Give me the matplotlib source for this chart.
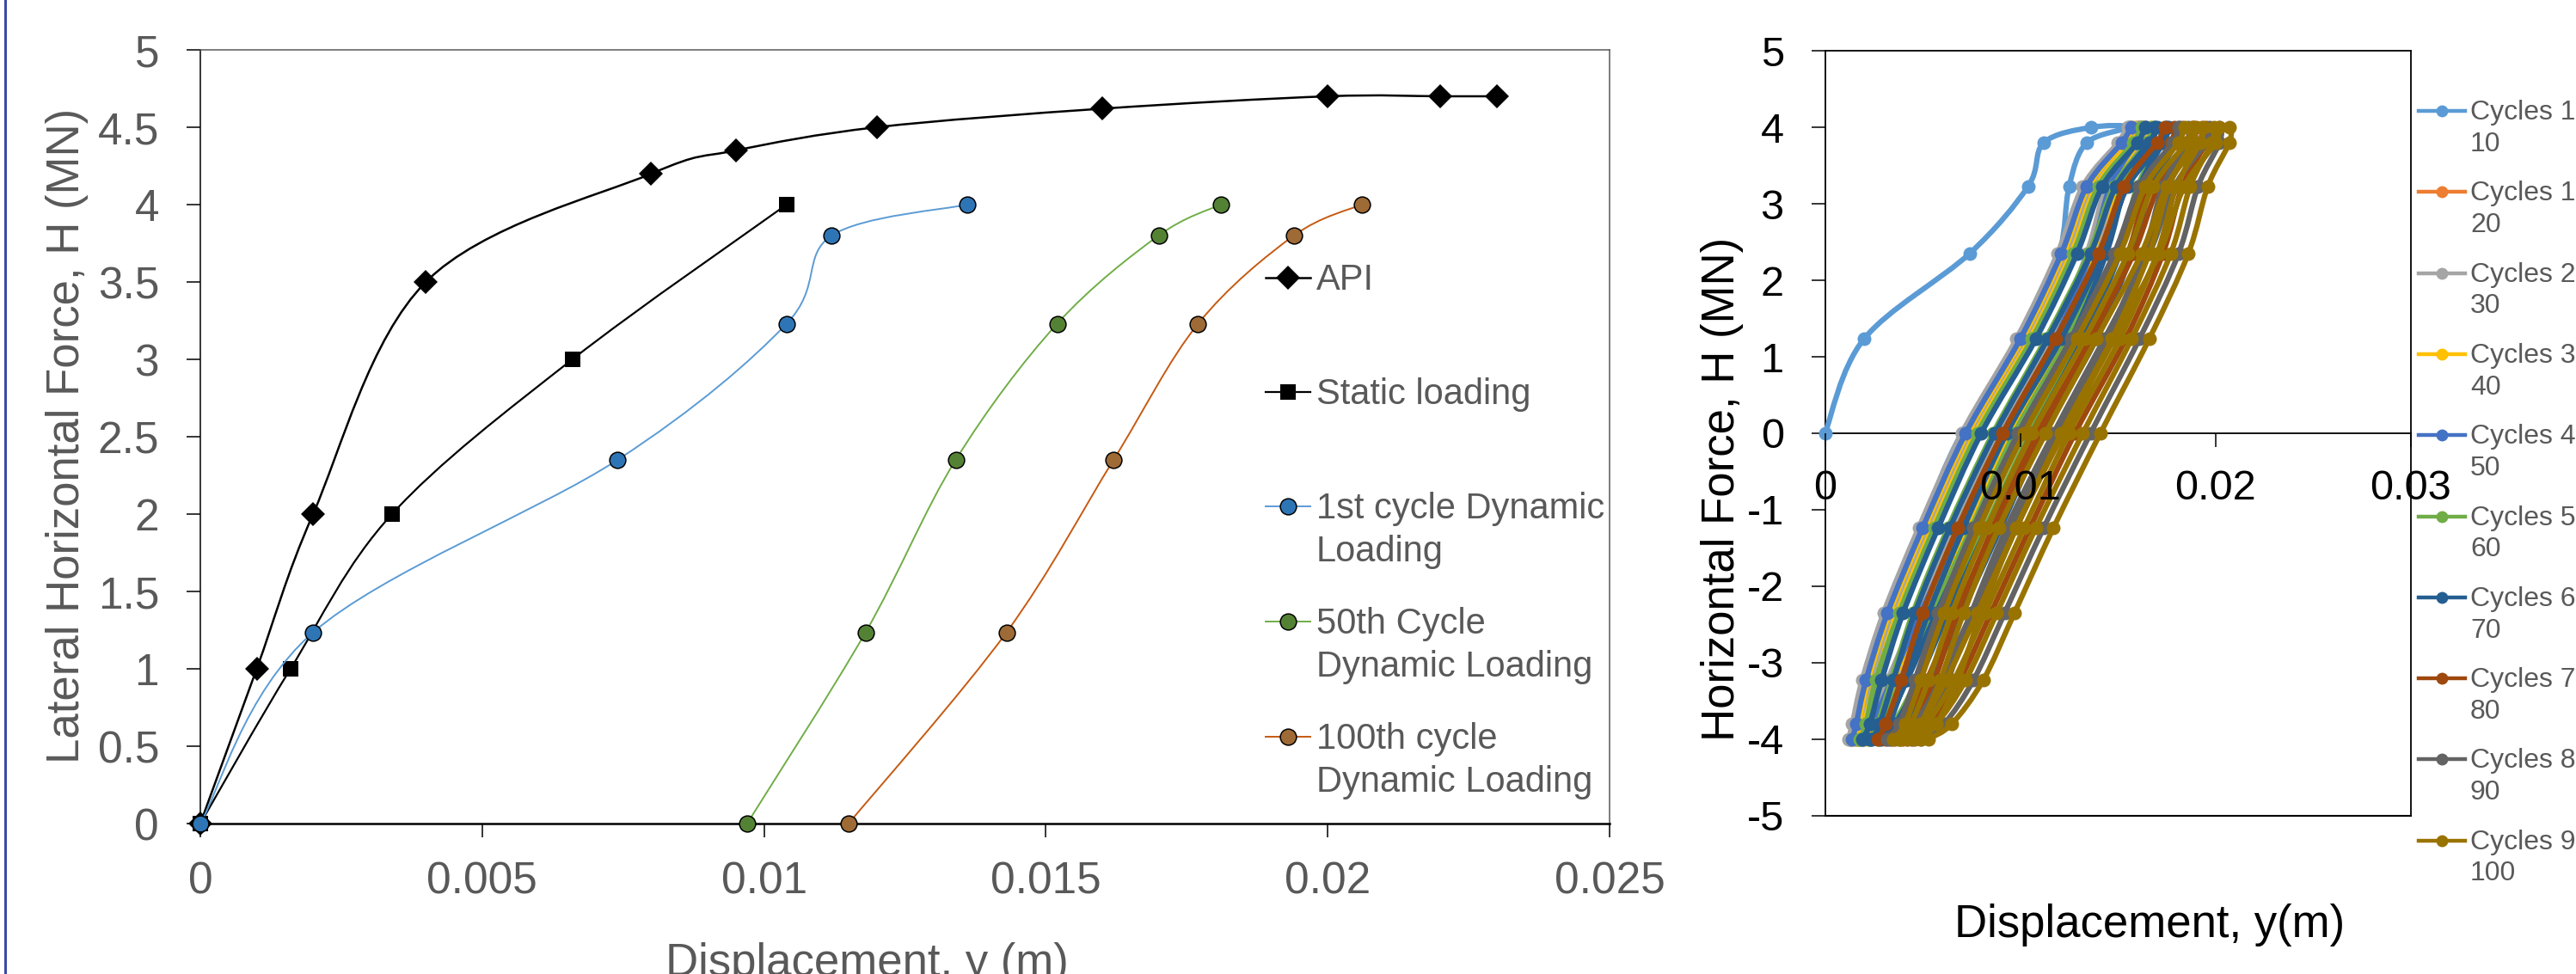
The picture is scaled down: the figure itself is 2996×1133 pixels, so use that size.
import numpy as np
import matplotlib
matplotlib.use('Agg')
import matplotlib.pyplot as plt
from matplotlib.path import Path
from matplotlib.patches import PathPatch
from matplotlib.lines import Line2D
from matplotlib.ticker import FuncFormatter, MultipleLocator

plt.rcParams['font.family'] = ['Liberation Sans', 'DejaVu Sans']

# ---------------- left panel: backbone curves ----------------
api_x = [0, 0.001, 0.002, 0.004, 0.008, 0.0095, 0.012, 0.016, 0.020, 0.022, 0.023]
api_y = [0, 1.0, 2.0, 3.5, 4.2, 4.35, 4.5, 4.62, 4.7, 4.7, 4.7]

static_x = [0, 0.0016, 0.0034, 0.0066, 0.0104]
static_y = [0, 1.0, 2.0, 3.0, 4.0]

cyc1_x = [0, 0.0020, 0.0074, 0.0104, 0.0112, 0.0136]
cyc1_y = [0, 1.235, 2.35, 3.23, 3.8, 4.0]

cyc50_x = [0.0097, 0.0118, 0.0134, 0.0152, 0.0170, 0.0181]
cyc50_y = [0, 1.235, 2.35, 3.23, 3.8, 4.0]

cyc100_x = [0.0115, 0.0143, 0.0162, 0.0177, 0.0194, 0.0206]
cyc100_y = [0, 1.235, 2.35, 3.23, 3.8, 4.0]

left_labels = [['API'], ['Static loading'], ['1st cycle Dynamic', 'Loading'],
               ['50th Cycle', 'Dynamic Loading'], ['100th cycle', 'Dynamic Loading']]

# ---------------- right panel: hysteresis loops (x in mm) ----------------
# force levels of one regular cycle: reloading -4 -> 4, then unloading 4 -> -4
cycle_levels = [-4, -3.8, -3.23, -2.35, -1.235, 0, 1.235, 2.35, 3.23, 3.8, 4,
                4, 3.8, 3.23, 2.35, 1.235, 0, -1.235, -2.35, -3.23, -3.8, -4]

first_cycle_x = [0, 2.0, 7.4, 10.4, 11.2, 13.6, 15.5, 13.4, 12.5, 12.0, 10.3, 7.0,
                 4.9, 3.2, 2.1, 1.6, 1.3]
first_cycle_y = [0, 1.235, 2.35, 3.23, 3.8, 4, 4, 3.8, 3.23, 2.35, 1.235, 0,
                 -1.235, -2.35, -3.23, -3.8, -4]

cycles_1_10 = [
    [1.3, 1.5, 2.0, 3.1, 4.9, 7.1, 9.9, 12.0, 13.3, 15.1, 15.6, 16.1, 15.8, 14.5, 13.5, 11.7, 9.0, 6.8, 4.8, 3.3, 2.3, 1.7],
]
cycles_10_20 = [
    [1.3, 1.5, 2.1, 3.2, 5.0, 7.2, 10.0, 12.1, 13.4, 15.2, 15.6, 16.1, 15.9, 14.6, 13.6, 11.8, 9.1, 6.9, 4.9, 3.4, 2.3, 1.7],
    [1.5, 1.7, 2.3, 3.4, 5.2, 7.4, 10.2, 12.3, 13.6, 15.4, 15.9, 16.4, 16.1, 14.8, 13.8, 12.0, 9.3, 7.1, 5.1, 3.6, 2.5, 1.9],
]
cycles_20_30 = [
    [1.2, 1.4, 1.9, 3.0, 4.8, 7.0, 9.8, 11.9, 13.2, 15.0, 15.5, 16.0, 15.7, 14.4, 13.4, 11.6, 8.9, 6.7, 4.7, 3.2, 2.2, 1.6],
    [1.6, 1.8, 2.4, 3.5, 5.3, 7.5, 10.3, 12.4, 13.7, 15.5, 16.0, 16.5, 16.2, 14.9, 13.9, 12.1, 9.4, 7.2, 5.2, 3.7, 2.6, 2.0],
]
cycles_30_40 = [
    [1.4, 1.7, 2.2, 3.3, 5.1, 7.3, 10.1, 12.2, 13.5, 15.3, 15.8, 16.3, 16.0, 14.7, 13.7, 11.9, 9.2, 7.0, 5.0, 3.5, 2.5, 1.8],
    [1.7, 2.0, 2.6, 3.7, 5.5, 7.7, 10.5, 12.6, 13.9, 15.7, 16.2, 16.7, 16.4, 15.1, 14.1, 12.3, 9.6, 7.4, 5.4, 3.9, 2.8, 2.1],
]
cycles_40_50 = [
    [1.4, 1.6, 2.1, 3.2, 5.0, 7.2, 10.0, 12.1, 13.4, 15.2, 15.7, 16.2, 15.9, 14.6, 13.6, 11.8, 9.1, 6.9, 4.9, 3.4, 2.4, 1.8],
    [1.9, 2.2, 2.8, 3.9, 5.7, 7.9, 10.7, 12.8, 14.1, 15.9, 16.4, 16.9, 16.6, 15.3, 14.3, 12.5, 9.8, 7.6, 5.6, 4.1, 3.0, 2.3],
]
cycles_50_60 = [
    [1.8, 2.1, 2.6, 3.8, 5.6, 7.8, 10.6, 12.7, 14.0, 15.8, 16.2, 16.7, 16.5, 15.2, 14.2, 12.4, 9.7, 7.5, 5.5, 3.9, 2.9, 2.2],
    [2.3, 2.7, 3.4, 4.5, 6.3, 8.6, 11.3, 13.5, 14.8, 16.5, 16.9, 17.4, 17.2, 16.0, 15.0, 13.1, 10.5, 8.2, 6.2, 4.7, 3.5, 2.7],
]
cycles_60_70 = [
    [1.9, 2.3, 2.9, 4.0, 5.8, 8.0, 10.8, 12.9, 14.2, 16.0, 16.4, 16.9, 16.7, 15.4, 14.4, 12.6, 9.9, 7.7, 5.7, 4.2, 3.1, 2.3],
    [2.4, 2.8, 3.5, 4.6, 6.4, 8.7, 11.4, 13.6, 14.9, 16.6, 17.0, 17.5, 17.3, 16.1, 15.1, 13.2, 10.6, 8.3, 6.3, 4.8, 3.6, 2.8],
    [2.9, 3.3, 4.1, 5.3, 7.1, 9.3, 12.1, 14.2, 15.5, 17.3, 17.6, 18.1, 18.0, 16.7, 15.7, 13.9, 11.2, 9.0, 7.0, 5.4, 4.1, 3.3],
]
cycles_70_80 = [
    [2.7, 3.1, 3.9, 5.0, 6.8, 9.1, 11.8, 14.0, 15.3, 17.0, 17.4, 17.9, 17.7, 16.5, 15.5, 13.6, 11.0, 8.7, 6.7, 5.2, 3.9, 3.1],
    [3.4, 4.0, 4.8, 6.0, 7.8, 10.1, 12.8, 15.0, 16.3, 18.0, 18.3, 18.8, 18.7, 17.5, 16.5, 14.6, 12.0, 9.7, 7.7, 6.1, 4.8, 3.8],
    [4.0, 4.6, 5.6, 6.8, 8.6, 10.9, 13.6, 15.8, 17.1, 18.8, 19.0, 19.5, 19.5, 18.3, 17.3, 15.4, 12.8, 10.5, 8.5, 6.9, 5.4, 4.4],
]
cycles_80_90 = [
    [3.2, 3.8, 4.6, 5.8, 7.6, 9.9, 12.6, 14.8, 16.1, 17.8, 18.1, 18.6, 18.5, 17.3, 16.3, 14.4, 11.8, 9.5, 7.5, 5.9, 4.6, 3.6],
    [4.5, 5.3, 6.3, 7.5, 9.3, 11.7, 14.3, 16.6, 17.9, 19.5, 19.7, 20.2, 20.2, 19.1, 18.1, 16.1, 13.6, 11.2, 9.2, 7.6, 6.1, 4.9],
]
cycles_90_100 = [
    [3.5, 4.1, 4.9, 6.1, 7.9, 10.2, 12.9, 15.1, 16.4, 18.1, 18.4, 18.9, 18.8, 17.6, 16.6, 14.7, 12.1, 9.8, 7.8, 6.2, 4.9, 3.9],
    [3.8, 4.4, 5.3, 6.5, 8.3, 10.6, 13.3, 15.5, 16.8, 18.5, 18.8, 19.3, 19.2, 18.0, 17.0, 15.1, 12.5, 10.2, 8.2, 6.6, 5.2, 4.2],
    [4.2, 4.9, 5.9, 7.1, 8.9, 11.3, 13.9, 16.2, 17.5, 19.1, 19.4, 19.9, 19.8, 18.7, 17.7, 15.7, 13.2, 10.8, 8.8, 7.2, 5.7, 4.6],
    [4.9, 5.7, 6.8, 8.0, 9.8, 12.2, 14.8, 17.1, 18.4, 20.0, 20.2, 20.7, 20.7, 19.6, 18.6, 16.6, 14.1, 11.7, 9.7, 8.1, 6.5, 5.3],
]

group_cycles = [cycles_1_10, cycles_10_20, cycles_20_30, cycles_30_40, cycles_40_50,
                cycles_50_60, cycles_60_70, cycles_70_80, cycles_80_90, cycles_90_100]
group_labels = [['Cycles 1-', '10'], ['Cycles 10-', '20'], ['Cycles 20-', '30'],
                ['Cycles 30-', '40'], ['Cycles 40-', '50'], ['Cycles 50-', '60'],
                ['Cycles 60-', '70'], ['Cycles 70-', '80'], ['Cycles 80-', '90'],
                ['Cycles 90-', '100']]
group_colors = ['#5B9BD5', '#ED7D31', '#A5A5A5', '#FFC000', '#4472C4',
                '#70AD47', '#255E91', '#9E480E', '#636363', '#997300']

W, H = 2996, 1133
GREY = '#595959'


def fx(px):
    return px / W


def fy(py):
    return 1 - py / H


def smooth_path(x, y):
    # Excel-like smoothed line (Catmull-Rom through the points)
    pts = np.column_stack([x, y]).astype(float)
    n = len(pts)
    verts = [pts[0]]
    codes = [Path.MOVETO]
    for i in range(n - 1):
        p0 = pts[max(i - 1, 0)]
        p1 = pts[i]
        p2 = pts[i + 1]
        p3 = pts[min(i + 2, n - 1)]
        verts += [p1 + (p2 - p0) / 6, p2 - (p3 - p1) / 6, p2]
        codes += [Path.CURVE4] * 3
    return Path(verts, codes)


def draw_smooth(ax, x, y, color, lw, z):
    ax.add_patch(PathPatch(smooth_path(x, y), facecolor='none', edgecolor=color,
                           lw=lw, zorder=z, clip_on=False, joinstyle='round',
                           capstyle='round'))


fig = plt.figure(figsize=(W / 100, H / 100), dpi=100)
fmt = FuncFormatter(lambda v, p: f'{v:g}')

# ================= left panel =================
axL = fig.add_axes([fx(233), fy(958), fx(1872) - fx(233), fy(58) - fy(958)])
axL.set_xlim(0, 0.025)
axL.set_ylim(0, 5)
axL.xaxis.set_major_locator(MultipleLocator(0.005))
axL.yaxis.set_major_locator(MultipleLocator(0.5))
axL.xaxis.set_major_formatter(fmt)
axL.yaxis.set_major_formatter(fmt)
axL.tick_params(direction='out', length=11.5, width=1.1, color='black',
                labelsize=37, labelcolor=GREY)
axL.tick_params(axis='y', pad=23)
axL.tick_params(axis='x', pad=20)
for s in ['top', 'right']:
    axL.spines[s].set_color(GREY)
    axL.spines[s].set_linewidth(1.1)
axL.spines['left'].set_linewidth(1.1)
axL.spines['bottom'].set_linewidth(1.8)

left_series = [
    (api_x, api_y, 'black', 'D', 'black', 1.8, 14),
    (static_x, static_y, 'black', 's', 'black', 1.6, 13.5),
    (cyc1_x, cyc1_y, '#5B9BD5', 'o', '#2E75B6', 1.4, 13.5),
    (cyc50_x, cyc50_y, '#70AD47', 'o', '#548235', 1.4, 13.5),
    (cyc100_x, cyc100_y, '#C55A11', 'o', '#9E6A35', 1.4, 13.5),
]
for k, (x, y, lc, m, mc, lw, ms) in enumerate(left_series):
    draw_smooth(axL, x, y, lc, lw, 3 + k)
    edge = 'none' if m in 'Ds' else 'black'
    axL.plot(x, y, ls='none', marker=m, ms=ms, mfc=mc, mec=edge, mew=1.1,
             zorder=3.5 + k, clip_on=False)

legend_y = [322.6, 455.7, 589.0, 722.9, 856.7]
for (x, y, lc, m, mc, lw, ms), hy, lines in zip(left_series, legend_y, left_labels):
    fig.add_artist(Line2D([fx(1472), fx(1524)], [fy(hy)] * 2, color=lc, lw=lw,
                          transform=fig.transFigure))
    edge = 'none' if m in 'Ds' else 'black'
    fig.add_artist(Line2D([fx(1498)], [fy(hy)], marker=m, ms=ms, mfc=mc, mec=edge,
                          mew=1.1, ls='none', transform=fig.transFigure))
    for j, t in enumerate(lines):
        fig.text(fx(1531), fy(hy + 14 + 50 * j), t, fontsize=30, color=GREY,
                 ha='left', va='baseline')

fig.text(fx(78), fy(507), 'Lateral Horizontal Force, H (MN)', rotation=90,
         ha='center', va='center', fontsize=38, color=GREY)
fig.text(fx(1008), fy(1135), 'Displacement, y (m)', ha='center', va='baseline',
         fontsize=38, color=GREY)

# ================= right panel =================
axR = fig.add_axes([fx(2122.6), fy(948.6), fx(2804) - fx(2122.6), fy(59.3) - fy(948.6)])
axR.set_xlim(0, 0.03)
axR.set_ylim(-5, 5)
axR.xaxis.set_major_locator(MultipleLocator(0.01))
axR.yaxis.set_major_locator(MultipleLocator(1))
axR.xaxis.set_major_formatter(fmt)
axR.yaxis.set_major_formatter(fmt)
axR.spines['bottom'].set_position(('data', 0))
axR.axhline(-5, color='black', lw=1.5, clip_on=False, zorder=2)
for s in axR.spines.values():
    s.set_linewidth(1.3)
axR.tick_params(direction='out', length=11.5, width=1.1, color='black',
                labelsize=35, labelcolor='black')
axR.tick_params(axis='y', pad=23)
axR.tick_params(axis='x', pad=19)
axR.xaxis.set_zorder(20)

for g, (cycles, color) in enumerate(zip(group_cycles, group_colors)):
    xs, ys = [], []
    if g == 0:
        xs += first_cycle_x
        ys += first_cycle_y
    for c in cycles:
        xs += c
        ys += cycle_levels
    xm = np.array(xs) / 1000.0
    draw_smooth(axR, xm, ys, color, 4.5, 3 + g)
    axR.plot(xm, ys, ls='none', marker='o', ms=11.5, mfc=color, mec='none',
             zorder=3.5 + g, clip_on=False)

for i, (color, lines) in enumerate(zip(group_colors, group_labels)):
    hy = 129 + 94.3 * i
    fig.add_artist(Line2D([fx(2813), fx(2867)], [fy(hy)] * 2, color=color, lw=3.2,
                          transform=fig.transFigure))
    fig.add_artist(Line2D([fx(2840)], [fy(hy)], marker='o', ms=10, mfc=color,
                          mec='none', ls='none', transform=fig.transFigure))
    for j, t in enumerate(lines):
        fig.text(fx(2873), fy(hy + 10 + 36.7 * j), t, fontsize=23, color=GREY,
                 ha='left', va='baseline')

fig.text(fx(2003), fy(569), 'Horizontal Force, H (MN)', rotation=90,
         ha='center', va='center', fontsize=38, color='black')
fig.text(fx(2500), fy(1089.6), 'Displacement, y(m)', ha='center', va='baseline',
         fontsize=38, color='black')

# blue frame line at the left edge
fig.add_artist(Line2D([fx(6)] * 2, [0, 1], color='#3C4BA5', lw=2.2,
                      transform=fig.transFigure))

fig.savefig('out.png', dpi=100)
